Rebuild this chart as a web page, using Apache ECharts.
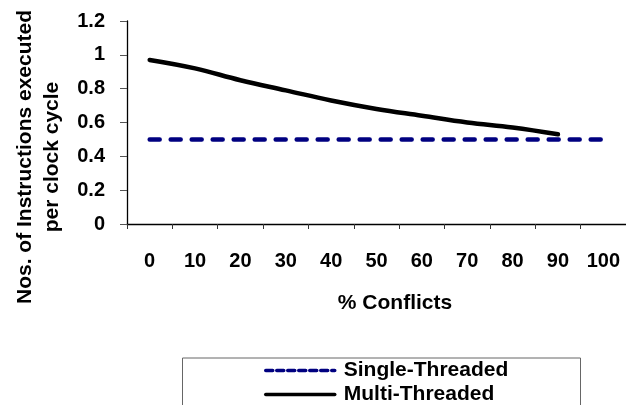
<!DOCTYPE html>
<html>
<head>
<meta charset="utf-8">
<script src="https://cdn.jsdelivr.net/npm/echarts@6/dist/echarts.min.js"></script>
<style>
html,body{margin:0;padding:0;background:#fff;}
#c{width:626px;height:405px;}
</style>
</head>
<body>
<div id="c"></div>
<script>
const categories = ['0','10','20','30','40','50','60','70','80','90','100'];
const singleThreaded = [0.5,0.5,0.5,0.5,0.5,0.5,0.5,0.5,0.5,0.5,0.5];
const multiThreaded = [0.97,0.92,0.85,0.79,0.73,0.68,0.64,0.60,0.57,0.53];
const yTitleLines = ['Nos. of Instructions executed','per clock cycle'];
const xTitle = '% Conflicts';

const FONT = '"Liberation Sans", Arial, sans-serif';
const legendText = {color:'#000', fontFamily:FONT, fontWeight:'bold', fontSize:21, padding:[0,0,0,4]};
const chart = echarts.init(document.getElementById('c'), null, {renderer:'canvas'});
chart.setOption({
  animation:false,
  backgroundColor:'#fff',
  grid:{left:127, top:21, right:-7, bottom:181},
  xAxis:{
    type:'category', data:categories, boundaryGap:true,
    axisLine:{lineStyle:{color:'#000', width:1.3}},
    axisTick:{show:true, interval:0, length:5, lineStyle:{color:'#333'}},
    axisLabel:{interval:0, margin:27, color:'#000', fontFamily:FONT, fontWeight:'bold', fontSize:20}
  },
  yAxis:{
    type:'value', min:0, max:1.2, interval:0.2,
    splitLine:{show:false},
    axisLine:{show:true, lineStyle:{color:'#000', width:1.3}},
    axisTick:{show:true, length:7, lineStyle:{color:'#555'}},
    axisLabel:{margin:22, color:'#000', fontFamily:FONT, fontWeight:'bold', fontSize:20}
  },
  legend:[
    {orient:'vertical', left:264, top:360, padding:0, itemWidth:69, itemHeight:10, itemGap:0,
     itemStyle:{opacity:0}, textStyle:legendText,
     data:[{name:'Single-Threaded', lineStyle:{type:[7,4], width:3.5}}]},
    {orient:'vertical', left:264, top:384, padding:0, itemWidth:69, itemHeight:10, itemGap:0,
     itemStyle:{opacity:0}, textStyle:legendText,
     data:[{name:'Multi-Threaded', lineStyle:{width:3.5}}]}
  ],
  graphic:[
    {type:'rect', shape:{x:182.5, y:358, width:398, height:70}, style:{fill:'none', stroke:'#666', lineWidth:1}, z:-1},
    {type:'text', x:395, y:303, style:{text:xTitle, fontFamily:FONT, fontWeight:'bold', fontSize:21, fill:'#000', align:'center', verticalAlign:'middle'}},
    {type:'text', x:39, y:157, rotation:Math.PI/2, style:{text:yTitleLines.join('\n'), fontFamily:FONT, fontWeight:'bold', fontSize:21, lineHeight:27, fill:'#000', align:'center', verticalAlign:'middle'}}
  ],
  series:[
    {name:'Single-Threaded', type:'line', data:singleThreaded, symbol:'none',
     lineStyle:{color:'#000080', width:4.5, type:[10,11], cap:'round'}, itemStyle:{color:'#000080'}},
    {name:'Multi-Threaded', type:'line', data:multiThreaded, symbol:'none', smooth:0.4,
     lineStyle:{color:'#000', width:4.5, cap:'round'}, itemStyle:{color:'#000'}}
  ]
});
</script>
</body>
</html>
